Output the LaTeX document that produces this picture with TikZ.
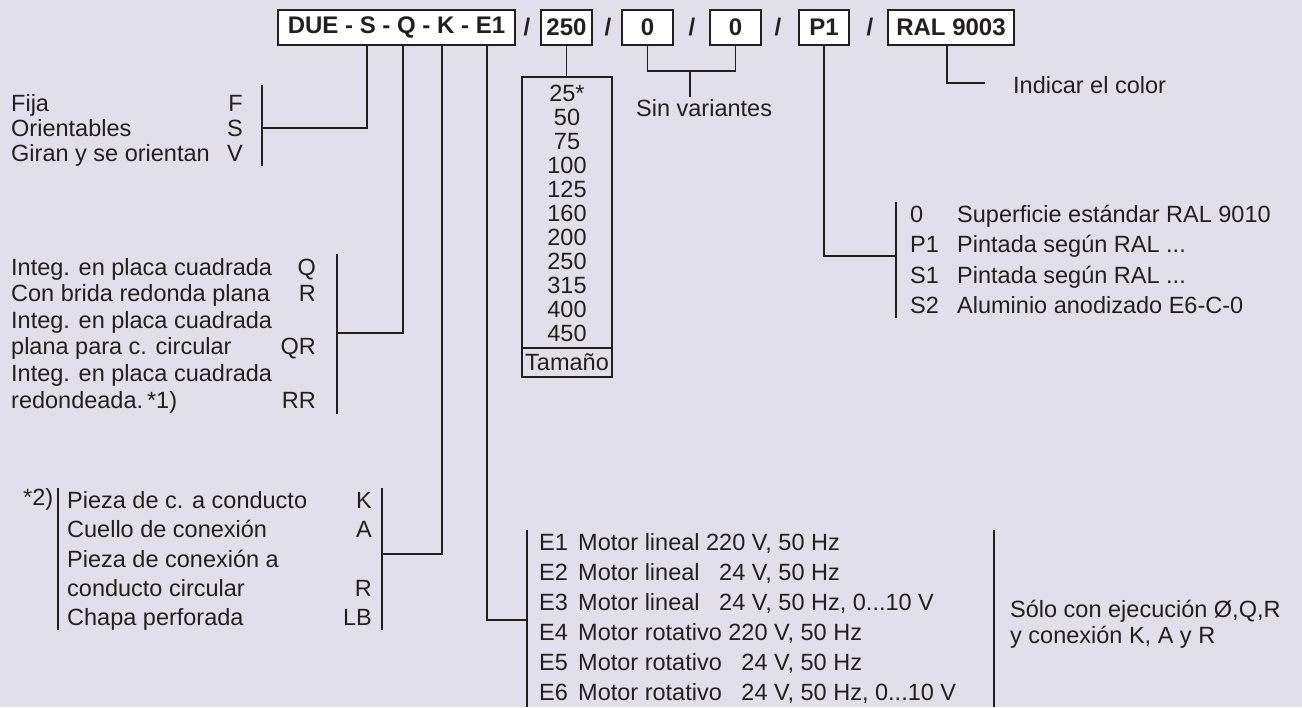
\documentclass[tikz,border=0pt]{standalone}
\usepackage{fontspec}
\setmainfont{Liberation Sans}
\definecolor{bgc}{HTML}{E1E0EA}
\definecolor{ink}{HTML}{231F20}
\tikzset{
  codebox/.style={draw=ink, fill=white, line width=1.2pt, text=ink, inner sep=0pt,
    minimum height=35pt, font=\bfseries\fontsize{24}{26}\selectfont},
  slash/.style={text=ink, inner sep=0pt, font=\bfseries\fontsize{24}{26}\selectfont},
  txt/.style={text=ink, inner sep=0pt, anchor=base west, font=\fontsize{23.5}{26}\selectfont},
  cod/.style={txt, anchor=base east},
  num/.style={txt, anchor=base},
  ln/.style={draw=ink, line width=1.2pt},
}
\begin{document}
\begin{tikzpicture}[x=1pt,y=-1pt]
\fill[bgc] (0,0) rectangle (1302,707);
% code boxes
\node[codebox, minimum width=237pt] (main) at (396.5,27.5){DUE - S - Q - K - E1};
\node[slash] (sl1) at (527,27.5){/};
\node[codebox, minimum width=51pt] (size) at (566.5,27.5){250};
\node[slash] (sl2) at (608,27.5){/};
\node[codebox, minimum width=51pt] (zeroA) at (647.5,27.5){0};
\node[slash] (sl3) at (692,27.5){/};
\node[codebox, minimum width=51pt] (zeroB) at (735.5,27.5){0};
\node[slash] (sl4) at (778,27.5){/};
\node[codebox, minimum width=50pt] (paint) at (824,27.5){P1};
\node[slash] (sl5) at (870,27.5){/};
\node[codebox, minimum width=126pt] (ral) at (951,27.5){RAL 9003};
\coordinate (sS) at (367,45);
\coordinate (sQ) at (403,45);
\coordinate (sK) at (442,45);
\coordinate (sE) at (487,45);
\coordinate (sR) at (947,45);
% S: mounting
\node[txt] (f1) at (11,111){Fija};
\node[cod] (f1c) at (243,111){F};
\node[txt] (f2) at (11,136){Orientables};
\node[cod] (f2c) at (243,136){S};
\node[txt] (f3) at (11,161){Giran y se orientan};
\node[cod] (f3c) at (243,161){V};
\coordinate (bF1) at (262,85);
\coordinate (bF2) at (262,166);
\coordinate (jS) at (262,128);
\draw[ln](bF1) -- (bF2);
\draw[ln](sS) |- (jS);
% Q: execution
\node[txt] (q1) at (11,275){Integ. en placa cuadrada};
\node[cod] (q1c) at (316,275){Q};
\node[txt] (q2) at (11,301.6){Con brida redonda plana};
\node[cod] (q2c) at (316,301.6){R};
\node[txt] (q3) at (11,328.2){Integ. en placa cuadrada};
\node[txt] (q4) at (11,354.8){plana para c. circular};
\node[cod] (q4c) at (316,354.8){QR};
\node[txt] (q5) at (11,381.4){Integ. en placa cuadrada};
\node[txt] (q6) at (11,408){redondeada.\,*1)};
\node[cod] (q6c) at (316,408){RR};
\coordinate (bQ1) at (337,254);
\coordinate (bQ2) at (337,414);
\coordinate (jQ) at (337,333);
\draw[ln](bQ1) -- (bQ2);
\draw[ln](sQ) |- (jQ);
% sizes
\node[draw=ink, line width=1.2pt, minimum width=90pt, minimum height=300pt, inner sep=0pt] (sizes) at (567,227){};
\coordinate (dv1) at (522,348);
\coordinate (dv2) at (612,348);
\draw[ln](dv1) -- (dv2);
\draw[ln](size.south) -- (size.south |- sizes.north);
\node[num] (v0) at (567,101.5){25*};
\node[num] (v1) at (567,125.5){50};
\node[num] (v2) at (567,149.5){75};
\node[num] (v3) at (567,173.5){100};
\node[num] (v4) at (567,197.5){125};
\node[num] (v5) at (567,221.5){160};
\node[num] (v6) at (567,245.5){200};
\node[num] (v7) at (567,269.5){250};
\node[num] (v8) at (567,293.5){315};
\node[num] (v9) at (567,317.5){400};
\node[num] (v10) at (567,341.5){450};
\node[num] (vt) at (567,370.5){Tamaño};
% variants
\coordinate (zm) at (690,71);
\coordinate (zs) at (690,97);
\draw[ln](zeroA.south) |- (zm) -| (zeroB.south);
\draw[ln](zm) -- (zs);
\node[txt] (zt) at (636,116){Sin variantes};
% colour
\coordinate (rE) at (985,83);
\draw[ln](sR) |- (rE);
\node[txt] (rt) at (1013,93){Indicar el color};
% P1: surface
\node[txt] (p1) at (910,222){0};
\node[txt] (p1t) at (957,222){Superficie estándar RAL 9010};
\node[txt] (p2) at (910,252.5){P1};
\node[txt] (p2t) at (957,252.5){Pintada según RAL ...};
\node[txt] (p3) at (910,283){S1};
\node[txt] (p3t) at (957,283){Pintada según RAL ...};
\node[txt] (p4) at (910,313){S2};
\node[txt] (p4t) at (957,313){Aluminio anodizado E6-C-0};
\coordinate (bP1) at (896,202);
\coordinate (bP2) at (896,318);
\coordinate (jP) at (896,256);
\draw[ln](bP1) -- (bP2);
\draw[ln](paint.south) |- (jP);
% K: connection
\node[txt] (kn) at (23,505){*2)};
\node[txt] (k1) at (67,508){Pieza de c. a conducto};
\node[cod] (k1c) at (372,508){K};
\node[txt] (k2) at (67,537.5){Cuello de conexión};
\node[cod] (k2c) at (372,537.5){A};
\node[txt] (k3) at (67,567){Pieza de conexión a};
\node[txt] (k4) at (67,596){conducto circular};
\node[cod] (k4c) at (372,596){R};
\node[txt] (k5) at (67,625){Chapa perforada};
\node[cod] (k5c) at (372,625){LB};
\coordinate (bK1) at (58,488);
\coordinate (bK2) at (58,630);
\coordinate (bK3) at (382,488);
\coordinate (bK4) at (382,630);
\coordinate (jK) at (382,554);
\draw[ln](bK1) -- (bK2);
\draw[ln](bK3) -- (bK4);
\draw[ln](sK) |- (jK);
% E1: actuator
\node[txt] (e1) at (539,550){E1};
\node[txt] (e1t) at (578,550){Motor lineal 220 V, 50 Hz};
\node[txt] (e2) at (539,580){E2};
\node[txt] (e2t) at (578,580){Motor lineal \hphantom{2}24 V, 50 Hz};
\node[txt] (e3) at (539,610){E3};
\node[txt] (e3t) at (578,610){Motor lineal \hphantom{2}24 V, 50 Hz, 0...10 V};
\node[txt] (e4) at (539,640){E4};
\node[txt] (e4t) at (578,640){Motor rotativo 220 V, 50 Hz};
\node[txt] (e5) at (539,670){E5};
\node[txt] (e5t) at (578,670){Motor rotativo \hphantom{2}24 V, 50 Hz};
\node[txt] (e6) at (539,700){E6};
\node[txt] (e6t) at (578,700){Motor rotativo \hphantom{2}24 V, 50 Hz, 0...10 V};
\coordinate (bE1) at (527,530);
\coordinate (bE2) at (527,707);
\coordinate (bE3) at (994,530);
\coordinate (bE4) at (994,707);
\coordinate (jE) at (527,620);
\draw[ln](bE1) -- (bE2);
\draw[ln](bE3) -- (bE4);
\draw[ln](sE) |- (jE);
\node[txt] (n1) at (1010,617){Sólo con ejecución Ø,Q,R};
\node[txt] (n2) at (1010,643){y conexión K, A y R};
\end{tikzpicture}
\end{document}
